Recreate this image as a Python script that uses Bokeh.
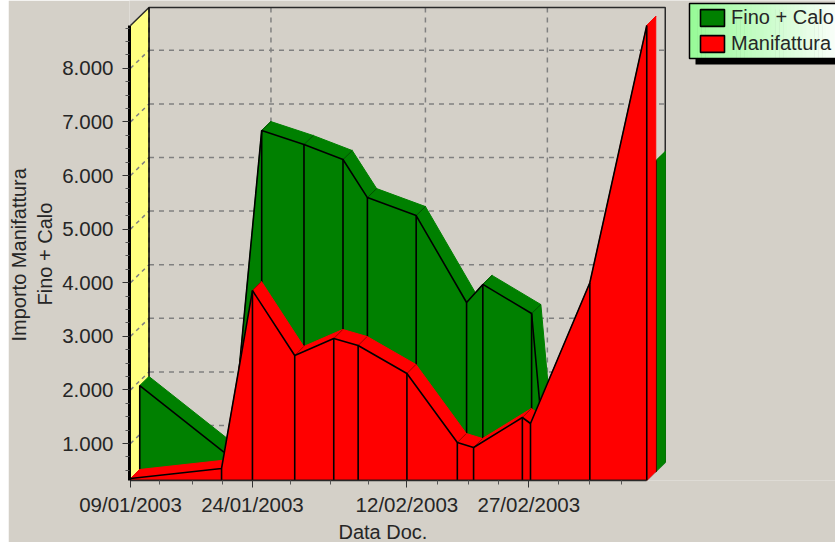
from bokeh.plotting import figure
from bokeh.embed import file_html
from bokeh.resources import INLINE
from bokeh.models import Range1d, FixedTicker, Legend, LegendItem, Title

# ---- data (days since 09/01/2003) ----
days = [0, 11.2, 15, 20.2, 25, 28, 34, 40.2, 42.2, 48.2, 49.2, 56.5, 63.5]
manifattura = [347, 534, 3854, 2642, 2959, 2828, 2306, 1018, 925, 1485, 1373, 4000, 8800]
fino_calo = [1914, 570, 6670, 6410, 6130, 5420, 5085, 3463, 3800, 3257, 1578, 3000, 6110]
series_names = ["Fino + Calo", "Manifattura"]
x_major = [0, 15, 34, 49]
x_labels = ["09/01/2003", "24/01/2003", "12/02/2003", "27/02/2003"]
x_minor = [3.6, 7.6, 11.3, 19.7, 24.6, 29.3, 37.7, 41.6, 45.3, 52.7, 56.4, 60.4]
y_major = [1000, 2000, 3000, 4000, 5000, 6000, 7000, 8000]
y_labels = ["1.000", "2.000", "3.000", "4.000", "5.000", "6.000", "7.000", "8.000"]
y_minor = [v for v in range(500, 8800, 250) if v % 1000]
y_titles = ["Importo Manifattura", "Fino + Calo"]
x_title = "Data Doc."

BG, GREEN, RED, YELLOW = "#d4d0c8", "#008000", "#ff0000", "#ffff80"
FONT = "Liberation Sans"
INK = "#262626"

# ---- scales ----
PX_DAY, PX_VAL = 8.13, 0.0536
X_AT_0, Y_AT_0 = 130.0, 496.6
LEFT, RIGHT, TOP, BOTTOM = 129, 835, 0, 480
x_of = lambda px: (px - X_AT_0) / PX_DAY
y_of = lambda py: (Y_AT_0 - py) / PX_VAL
YMIN, YMAX = y_of(BOTTOM), y_of(25)
XMAX = days[-1]


def off(dx, dy):
    return dx / PX_DAY, dy / PX_VAL


p = figure(width=827, height=542, frame_width=RIGHT - LEFT, frame_height=BOTTOM - TOP,
           output_backend="svg", toolbar_location=None,
           x_range=Range1d(x_of(LEFT), x_of(RIGHT)), y_range=Range1d(y_of(BOTTOM), y_of(TOP)),
           min_border_left=LEFT - 8, min_border_right=0, min_border_top=0, min_border_bottom=62,
           background_fill_color=BG, border_fill_color=BG, outline_line_color=None)
p.grid.visible = False

# ---- walls ----
bx, by = off(18.5, 18)
p.patch([0, bx, bx, 0], [YMIN, YMIN + by, YMAX + by, YMAX], fill_color=YELLOW, line_color=None)
grid_col = "#808080"
p.segment(x0=[0] * 8, y0=y_major, x1=[bx] * 8, y1=[v + by for v in y_major],
          line_color=grid_col, line_width=1.5, line_dash="4 4")
p.segment(x0=[bx] * 8, y0=[v + by for v in y_major], x1=[XMAX + bx] * 8, y1=[v + by for v in y_major],
          line_color=grid_col, line_width=1.5, line_dash="5 5")
p.segment(x0=[d + bx for d in x_major], y0=[YMIN + by] * 4, x1=[d + bx for d in x_major], y1=[YMAX + by] * 4,
          line_color=grid_col, line_width=1.5, line_dash="5 5")
p.line([0, bx, XMAX + bx, XMAX + bx], [YMAX, YMAX + by, YMAX + by, YMIN + by], line_color="#2a2a2a", line_width=1.5)
p.line([bx, bx], [YMIN + by, YMAX + by], line_color="black", line_width=1.5)
p.line([XMAX, XMAX + bx], [YMIN, YMIN + by], line_color="#9a9a9a", line_width=1.5)


def area3d(values, colour, sep, d0, d1):
    """One 3D area: top band, end face, front face and its vertical edges."""
    ax, ay = off(*d0)
    cx, cy = off(*d1)
    xs = [d + ax for d in days]
    ys = [v + ay for v in values]
    band_x, band_y = [], []
    for i in range(len(days) - 1):
        band_x.append([xs[i], xs[i + 1], xs[i + 1] + cx, xs[i] + cx])
        band_y.append([ys[i], ys[i + 1], ys[i + 1] + cy, ys[i] + cy])
    p.patches(band_x, band_y, fill_color=colour, line_color=colour, line_width=1)
    p.segment(x0=xs[1:-1], y0=ys[1:-1], x1=[x + cx for x in xs[1:-1]], y1=[y + cy for y in ys[1:-1]],
              line_color=sep, line_width=1)
    p.patch([xs[-1], xs[-1] + cx, xs[-1] + cx, xs[-1]],
            [ys[-1], ys[-1] + cy, YMIN + ay + cy, YMIN + ay],
            fill_color=colour, line_color=colour, line_width=1)
    front = p.patch(xs + [xs[-1], xs[0]], ys + [YMIN + ay, YMIN + ay],
                    fill_color=colour, line_color="black", line_width=1.6)
    p.segment(x0=xs[1:-1], y0=ys[1:-1], x1=xs[1:-1], y1=[YMIN + ay] * (len(xs) - 2),
              line_color="black", line_width=1.6)
    return front


g = area3d(fino_calo, GREEN, "#005000", (9.25, 9), (9.25, 9))
r = area3d(manifattura, RED, "#a00000", (0, 0), (9, 9))

# ---- legend panel: shadow and left-to-right gradient under a real legend ----
lx0, lx1, ly0, ly1 = 689, 845, 3, 58
p.quad(left=[x_of(lx0 + 6)], right=[x_of(lx1)], top=[y_of(ly0 + 6)], bottom=[y_of(ly1 + 6)],
       fill_color="black", line_color=None)
steps = 40
start, end = (152, 251, 152), (255, 255, 255)
for i in range(steps):
    t = i / (steps - 1)
    c = tuple(int(a + (b - a) * t) for a, b in zip(start, end))
    w = (lx1 - lx0) / steps
    p.quad(left=[x_of(lx0 + i * w)], right=[x_of(lx0 + (i + 1) * w + 0.6)], top=[y_of(ly0)], bottom=[y_of(ly1)],
           fill_color="#%02x%02x%02x" % c, line_color=None)
p.quad(left=[x_of(lx0)], right=[x_of(lx1)], top=[y_of(ly0)], bottom=[y_of(ly1)],
       fill_color=None, line_color="black", line_width=1.5)
legend = Legend(items=[LegendItem(label=series_names[0], renderers=[g]),
                       LegendItem(label=series_names[1], renderers=[r])],
                location=(lx0 + 8 - LEFT, BOTTOM - ly1 + 3), orientation="vertical",
                background_fill_alpha=0, border_line_color=None,
                padding=2, margin=0, spacing=3, glyph_width=30, glyph_height=21,
                label_standoff=4, label_text_font=FONT,
                label_text_font_size="20px", label_text_color=INK, label_text_baseline="middle")
p.add_layout(legend, "center")

# ---- axes ----
xa, ya = p.xaxis[0], p.yaxis[0]
xa.bounds = (0, XMAX)
ya.bounds = (YMIN, YMAX)
xa.ticker = FixedTicker(ticks=x_major, minor_ticks=x_minor)
xa.major_label_overrides = dict(zip(x_major, x_labels))
ya.ticker = FixedTicker(ticks=y_major, minor_ticks=y_minor)
ya.major_label_overrides = dict(zip(y_major, y_labels))
for a in (xa, ya):
    a.major_label_text_font = FONT
    a.major_label_text_font_size = "20.5px"
    a.major_label_text_color = INK
    a.major_tick_line_color = "#333333"
    a.minor_tick_line_color = "#555555"
    a.major_tick_in = 0
    a.minor_tick_in = 0
    a.major_tick_out = 7
    a.minor_tick_out = 4
xa.axis_line_color = "#2a2a2a"
xa.axis_line_width = 1.6
xa.major_label_standoff = 5
ya.axis_line_color = "black"
ya.axis_line_width = 3
ya.major_label_standoff = 9

# ---- axis titles, placed where the reference has them ----
title_style = dict(text_font=FONT, text_font_size="20px", text_color=INK,
                   text_font_style="normal", align="left")
p.add_layout(Title(text=y_titles[1], offset=BOTTOM - 305, standoff=8, **title_style), "left")
p.add_layout(Title(text=y_titles[0], offset=BOTTOM - 341, standoff=-5, **title_style), "left")
p.add_layout(Title(text=x_title, offset=338 - LEFT, standoff=1, **title_style), "below")

html = file_html(p, INLINE)
html = html.replace("<head>", "<head><style>html,body{margin:0;padding:0;overflow:hidden}"
                    "body>div>*{position:absolute!important;left:8px!important;top:0!important}</style>", 1)
open("out.html", "w").write(html)
